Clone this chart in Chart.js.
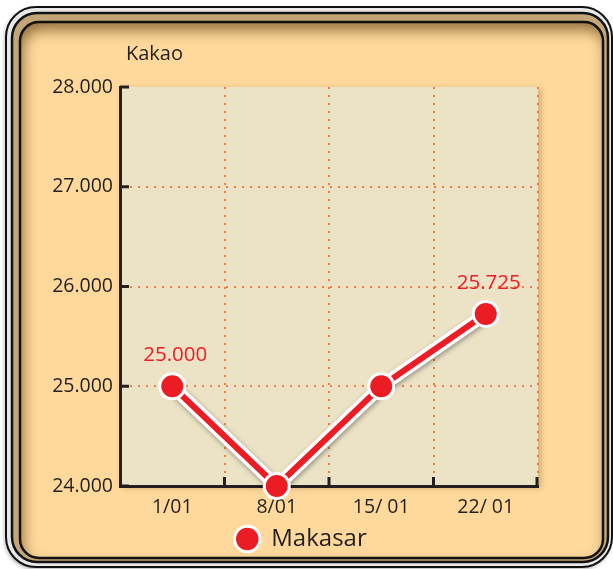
<!DOCTYPE html>
<html>
<head>
<meta charset="utf-8">
<script src="https://cdn.jsdelivr.net/npm/chart.js@4/dist/chart.umd.min.js"></script>
<style>
  html, body { margin: 0; padding: 0; background: #fff; }
  #wrap { width: 613px; height: 569px; }
</style>
</head>
<body>
<div id="wrap"><canvas id="chart" width="613" height="569"></canvas></div>
<script>
// data
const tanggal = ['1/01', '8/01', '15/ 01', '22/ 01'];
const makasar = [25000, 24000, 25000, 25725];
const labelShown = [true, false, false, true];
const yMin = 24000, yMax = 28000, yStep = 1000;

const RED = '#EC1C24';
const INK = '#231F20';
const DOTS = '#F4793A';
const FONT = '"Open Sans", "Noto Sans", sans-serif';

function fmt(v) {
  return String(v).replace(/\B(?=(\d{3})+(?!\d))/g, '.');
}

function rr(ctx, x, y, w, h, r) {
  ctx.beginPath();
  ctx.moveTo(x + r, y);
  ctx.arcTo(x + w, y, x + w, y + h, r);
  ctx.arcTo(x + w, y + h, x, y + h, r);
  ctx.arcTo(x, y + h, x, y, r);
  ctx.arcTo(x, y, x + w, y, r);
  ctx.closePath();
}

const framePlugin = {
  id: 'frame',
  afterLayout(chart) {
    // legend sits a bit right of the canvas centre in the original
    if (chart.legend) {
      chart.legend.left += 32;
      chart.legend.right += 32;
    }
  },
  beforeDraw(chart) {
    const ctx = chart.ctx;
    const a = chart.chartArea;
    ctx.save();
    ctx.fillStyle = '#fff';
    ctx.fillRect(0, 0, chart.width, chart.height);

    // outer ring with drop shadow
    ctx.save();
    ctx.shadowColor = 'rgba(0,0,0,0.35)';
    ctx.shadowBlur = 4;
    ctx.shadowOffsetX = -1;
    ctx.shadowOffsetY = 2;
    rr(ctx, 6, 7, 606, 560, 30);
    ctx.fillStyle = '#e8e8e8';
    ctx.fill();
    ctx.restore();
    ctx.lineWidth = 2;
    ctx.strokeStyle = '#111';
    rr(ctx, 6, 7, 606, 560, 30);
    ctx.stroke();

    rr(ctx, 12, 13, 596, 549, 25);
    ctx.fillStyle = '#C4A577';
    ctx.fill();
    ctx.lineWidth = 2.5;
    ctx.strokeStyle = '#111';
    ctx.stroke();

    // peach panel with inner shadow
    rr(ctx, 20, 22, 583, 536, 19);
    ctx.fillStyle = '#FED99B';
    ctx.fill();
    ctx.save();
    rr(ctx, 20, 22, 583, 536, 19);
    ctx.clip();
    ctx.beginPath();
    ctx.rect(-100, -100, 813, 769);
    ctx.moveTo(20 + 19, 22);
    ctx.arcTo(20, 22, 20, 22 + 536, 19);
    ctx.arcTo(20, 22 + 536, 20 + 583, 22 + 536, 19);
    ctx.arcTo(20 + 583, 22 + 536, 20 + 583, 22, 19);
    ctx.arcTo(20 + 583, 22, 20, 22, 19);
    ctx.closePath();
    ctx.shadowColor = 'rgba(110,75,30,0.75)';
    ctx.shadowBlur = 14;
    ctx.shadowOffsetX = 3;
    ctx.shadowOffsetY = 8;
    ctx.fillStyle = '#000';
    ctx.fill('evenodd');
    ctx.restore();
    rr(ctx, 20, 22, 583, 536, 19);
    ctx.lineWidth = 2.5;
    ctx.strokeStyle = '#111';
    ctx.stroke();

    // plot background
    ctx.save();
    ctx.shadowColor = 'rgba(120,90,40,0.35)';
    ctx.shadowBlur = 6;
    ctx.shadowOffsetX = 3;
    ctx.shadowOffsetY = 2;
    ctx.fillStyle = '#ECE3C6';
    ctx.fillRect(a.left, a.top, a.right - a.left, a.bottom - a.top);
    ctx.restore();

    // axis title
    ctx.fillStyle = INK;
    ctx.font = '20px ' + FONT;
    ctx.textBaseline = 'middle';
    ctx.textAlign = 'left';
    ctx.fillText('Kakao', 126, 54);
    ctx.restore();
  },
  beforeDatasetsDraw(chart) {
    // inward tick marks
    const ctx = chart.ctx;
    const a = chart.chartArea;
    const xs = chart.scales.x, ys = chart.scales.y;
    ctx.save();
    ctx.strokeStyle = INK;
    ctx.lineWidth = 3;
    ctx.beginPath();
    for (let i = 1; i <= tanggal.length; i++) {
      const px = i < tanggal.length
        ? (xs.getPixelForValue(i - 1) + xs.getPixelForValue(i)) / 2
        : a.right - 1;
      ctx.moveTo(px, a.bottom);
      ctx.lineTo(px, a.bottom - 9);
    }
    ys.ticks.forEach(t => {
      const py = ys.getPixelForValue(t.value);
      ctx.moveTo(a.left, py);
      ctx.lineTo(a.left + 9, py);
    });
    ctx.stroke();
    ctx.restore();
  },
  beforeDatasetDraw(chart, args) {
    if (args.index === 1) {
      const ctx = chart.ctx;
      ctx.save();
      ctx.shadowColor = 'rgba(0,0,0,0.35)';
      ctx.shadowBlur = 5;
      ctx.shadowOffsetX = 1;
      ctx.shadowOffsetY = 2;
    }
  },
  afterDatasetDraw(chart, args) {
    if (args.index === 1) chart.ctx.restore();
  },
  afterDatasetsDraw(chart) {
    const ctx = chart.ctx;
    const meta = chart.getDatasetMeta(0);
    ctx.save();
    ctx.fillStyle = RED;
    ctx.font = '20.5px ' + FONT;
    ctx.textAlign = 'center';
    ctx.textBaseline = 'middle';
    meta.data.forEach((pt, i) => {
      if (!labelShown[i]) return;
      ctx.fillText(fmt(makasar[i]), pt.x + 3, pt.y - 31);
    });
    ctx.restore();
  }
};

new Chart(document.getElementById('chart'), {
  type: 'line',
  data: {
    labels: tanggal,
    datasets: [
      {
        label: 'Makasar',
        data: makasar,
        borderColor: RED,
        borderWidth: 6,
        backgroundColor: RED,
        pointRadius: 12.5,
        pointHoverRadius: 12.5,
        pointBackgroundColor: RED,
        pointBorderColor: '#fff',
        pointBorderWidth: 3,
        tension: 0,
        clip: false
      },
      {
        label: '',
        data: makasar,
        borderColor: '#fff',
        borderWidth: 13,
        pointRadius: 0,
        tension: 0,
        clip: false
      }
    ]
  },
  plugins: [framePlugin],
  options: {
    responsive: false,
    animation: false,
    events: [],
    layout: { padding: { top: 87, right: 75, bottom: 8, left: 0 } },
    plugins: {
      title: { display: false },
      tooltip: { enabled: false },
      legend: {
        position: 'bottom',
        labels: {
          usePointStyle: true,
          boxHeight: 18,
          padding: 10,
          color: INK,
          font: { family: FONT, size: 24 },
          filter: item => item.text !== ''
        }
      }
    },
    scales: {
      x: {
        offset: true,
        afterFit(s) { s.height = 31; },
        grid: {
          offset: true,
          drawTicks: false,
          lineWidth: 2,
          color: c => (c.index === 0 || c.index === tanggal.length) ? 'rgba(0,0,0,0)' : DOTS
        },
        border: { display: true, color: INK, width: 3, dash: [2, 6] },
        ticks: {
          padding: 10,
          color: INK,
          font: { family: FONT, size: 19.5 }
        }
      },
      y: {
        min: yMin,
        max: yMax,
        afterFit(s) { s.width = 120; },
        grid: {
          drawTicks: false,
          lineWidth: 2,
          color: c => (c.tick && (c.tick.value === yMin || c.tick.value === yMax)) ? 'rgba(0,0,0,0)' : DOTS
        },
        border: { display: true, color: INK, width: 3, dash: [2, 6] },
        ticks: {
          stepSize: yStep,
          padding: 7,
          color: INK,
          font: { family: FONT, size: 19.5 },
          callback: v => fmt(v)
        }
      }
    }
  }
});
</script>
</body>
</html>
